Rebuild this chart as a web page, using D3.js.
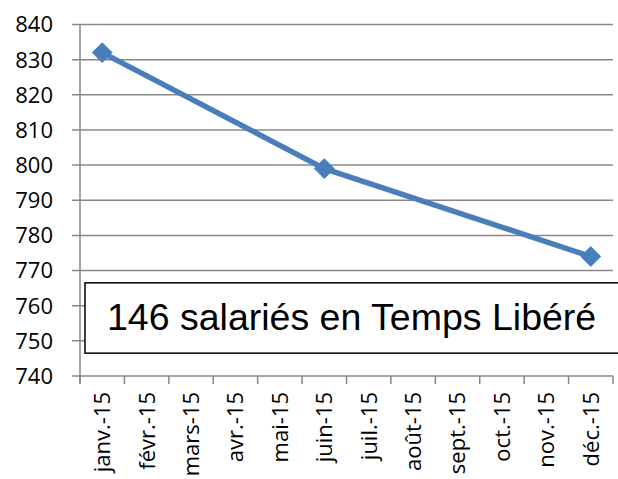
<!DOCTYPE html>
<html>
<head>
<meta charset="utf-8">
<script src="https://cdn.jsdelivr.net/npm/d3@7"></script>
<style>
  body { margin: 0; background: #fff; }
  svg { display: block; }
</style>
</head>
<body>
<script>
var width = 618,
    height = 479;

// data
var months = ["janv.-15", "févr.-15", "mars-15", "avr.-15", "mai-15", "juin-15",
              "juil.-15", "août-15", "sept.-15", "oct.-15", "nov.-15", "déc.-15"];
var pointMonths = ["janv.-15", "juin-15", "déc.-15"];
var pointValues = [832, 799, 774];
var yTicks = [740, 750, 760, 770, 780, 790, 800, 810, 820, 830, 840];
var boxText = "146 salariés en Temps Libéré";

var margin = {top: 24.5, left: 80, right: 5, bottom: 103};

var svg = d3.select("body").append("svg")
    .attr("width", width)
    .attr("height", height);

var x = d3.scaleBand()
    .domain(months)
    .range([margin.left, width - margin.right]);

var y = d3.scaleLinear()
    .domain([740, 840])
    .range([height - margin.bottom, margin.top]);

// gridlines
svg.append("g")
  .selectAll("line")
  .data(yTicks)
  .enter().append("line")
    .attr("x1", margin.left - 8)
    .attr("x2", width - margin.right)
    .attr("y1", function(d) { return y(d); })
    .attr("y2", function(d) { return y(d); })
    .attr("stroke", "#888")
    .attr("stroke-width", 1.5);

// y axis line
svg.append("line")
    .attr("x1", margin.left).attr("x2", margin.left)
    .attr("y1", margin.top).attr("y2", y(740) + 8)
    .attr("stroke", "#888")
    .attr("stroke-width", 1.5);

// x tick marks
var xTickPos = months.map(function(m) { return x(m); }).concat([x.range()[1]]);
svg.append("g")
  .selectAll("line")
  .data(xTickPos)
  .enter().append("line")
    .attr("x1", function(d) { return d; })
    .attr("x2", function(d) { return d; })
    .attr("y1", y(740))
    .attr("y2", y(740) + 8)
    .attr("stroke", "#888")
    .attr("stroke-width", 1.5);

// y labels
svg.append("g")
  .selectAll("text")
  .data(yTicks)
  .enter().append("text")
    .attr("x", margin.left - 27)
    .attr("y", function(d) { return y(d); })
    .attr("dy", "0.36em")
    .attr("text-anchor", "end")
    .style("font-family", "'Open Sans', sans-serif")
    .style("font-size", "22px")
    .attr("fill", "#000")
    .text(function(d) { return d; });

// x labels rotated
svg.append("g")
  .selectAll("text")
  .data(months)
  .enter().append("text")
    .attr("transform", function(d) {
      return "translate(" + (x(d) + x.bandwidth() / 2) + "," + (y(740) + 16) + ") rotate(-90)";
    })
    .attr("dy", "0.36em")
    .attr("text-anchor", "end")
    .style("font-family", "'Open Sans', sans-serif")
    .style("font-size", "22px")
    .attr("fill", "#000")
    .text(function(d) { return d; });

// line + markers
var pts = pointMonths.map(function(m, i) { return {m: m, v: pointValues[i]}; });
var line = d3.line()
    .x(function(d) { return x(d.m) + x.bandwidth() / 2; })
    .y(function(d) { return y(d.v); });

svg.append("path")
    .datum(pts)
    .attr("d", line)
    .attr("fill", "none")
    .attr("stroke", "#4a7ebb")
    .attr("stroke-width", 5.5)
    .attr("stroke-linejoin", "round");

svg.append("g")
  .selectAll("path")
  .data(pts)
  .enter().append("path")
    .attr("d", d3.symbol().type(d3.symbolDiamond2).size(250))
    .attr("transform", function(d) {
      return "translate(" + (x(d.m) + x.bandwidth() / 2) + "," + y(d.v) + ")";
    })
    .attr("fill", "#4a7ebb")
    .attr("stroke", "#4a7ebb")
    .attr("stroke-width", 1);

// text box
var box = svg.append("g");
box.append("rect")
    .attr("x", 85)
    .attr("y", y(766.5))
    .attr("width", 560)
    .attr("height", y(746.5) - y(766.5))
    .attr("fill", "#fff")
    .attr("stroke", "#000")
    .attr("stroke-width", 1.5);
box.append("text")
    .attr("x", 107)
    .attr("y", y(753.2))
    .style("font-family", "'Liberation Sans', Arial, sans-serif")
    .style("font-size", "37.5px")
    .attr("fill", "#000")
    .text(boxText);
</script>
</body>
</html>
